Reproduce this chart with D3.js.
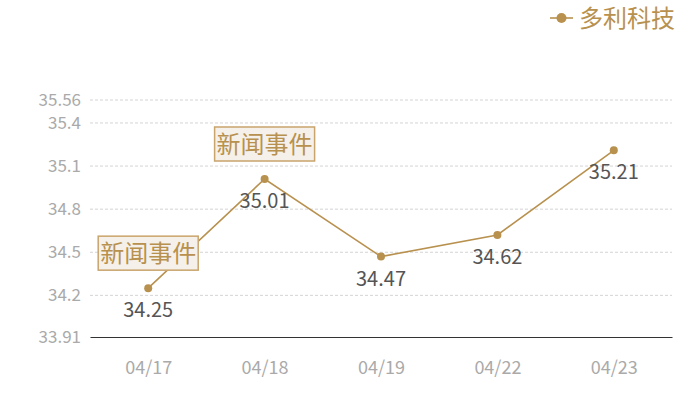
<!DOCTYPE html>
<html>
<head>
<meta charset="utf-8">
<script src="https://cdn.jsdelivr.net/npm/d3@7"></script>
<style>
  body { margin: 0; background: #fff; }
  text { font-family: "Noto Sans CJK SC", "Noto Sans", sans-serif; }
</style>
</head>
<body>
<div id="chart"></div>
<script>
// Data
const seriesName = "多利科技";
const dates = ["04/17", "04/18", "04/19", "04/22", "04/23"];
const prices = [34.25, 35.01, 34.47, 34.62, 35.21];
const yTicks = [33.91, 34.2, 34.5, 34.8, 35.1, 35.4, 35.56];
const eventDates = ["04/17", "04/18"];
const eventLabel = "新闻事件";

const dimensions = {
  width: 700,
  height: 400,
  margin: { top: 100, bottom: 63, left: 90, right: 28 },
};
dimensions.containerWidth = dimensions.width - dimensions.margin.left - dimensions.margin.right;
dimensions.containerHeight = dimensions.height - dimensions.margin.top - dimensions.margin.bottom;

const gold = "#b8914f";

const svg = d3.select("#chart")
  .append("svg")
  .attr("width", dimensions.width)
  .attr("height", dimensions.height);

const container = svg.append("g")
  .attr("transform", `translate(${dimensions.margin.left}, ${dimensions.margin.top})`);

// Scales
const xScale = d3.scalePoint()
  .domain(dates)
  .range([0, dimensions.containerWidth])
  .padding(0.5);

const yScale = d3.scaleLinear()
  .domain([yTicks[0], yTicks[yTicks.length - 1]])
  .range([dimensions.containerHeight, 0]);

// Grid lines
container.append("g")
  .selectAll("line")
  .data(yTicks.slice(1))
  .join("line")
  .attr("x1", 0)
  .attr("x2", dimensions.containerWidth)
  .attr("y1", d => yScale(d))
  .attr("y2", d => yScale(d))
  .attr("stroke", "#d4d4d4")
  .attr("stroke-dasharray", "3,2");

// Y axis
const yAxis = d3.axisLeft(yScale).tickValues(yTicks).tickSize(0).tickPadding(9).tickFormat(d => d);
const yAxisGroup = container.append("g").call(yAxis);
yAxisGroup.select(".domain").remove();
yAxisGroup.selectAll("text")
  .attr("fill", "#aaaaaa")
  .style("font-size", "17px");

// X axis
const xAxis = d3.axisBottom(xScale).tickSize(0).tickPadding(24);
const xAxisGroup = container.append("g")
  .attr("transform", `translate(0, ${dimensions.containerHeight})`)
  .call(xAxis);
xAxisGroup.select(".domain").attr("stroke", "#333").attr("stroke-width", 1.2);
xAxisGroup.selectAll("text")
  .attr("fill", "#aaaaaa")
  .style("font-size", "18px");

// Line
const line = d3.line()
  .x((d, i) => xScale(dates[i]))
  .y(d => yScale(d));

container.append("path")
  .datum(prices)
  .attr("fill", "none")
  .attr("stroke", gold)
  .attr("stroke-width", 1.6)
  .attr("d", line);

container.append("g")
  .selectAll("circle")
  .data(prices)
  .join("circle")
  .attr("cx", (d, i) => xScale(dates[i]))
  .attr("cy", d => yScale(d))
  .attr("r", 4)
  .attr("fill", gold);

// Value labels
container.append("g")
  .selectAll("text")
  .data(prices)
  .join("text")
  .attr("x", (d, i) => xScale(dates[i]))
  .attr("y", d => yScale(d) + 29)
  .attr("text-anchor", "middle")
  .attr("fill", "#555")
  .style("font-size", "20px")
  .text(d => d.toFixed(2));

// Event annotations
const eventGroup = container.append("g")
  .selectAll("g")
  .data(eventDates)
  .join("g")
  .attr("transform", d => {
    const v = prices[dates.indexOf(d)];
    return `translate(${xScale(d)}, ${yScale(v) - 35})`;
  });

eventGroup.append("rect")
  .attr("x", -50)
  .attr("y", -17)
  .attr("width", 100)
  .attr("height", 34)
  .attr("fill", "#f5f0ea")
  .attr("stroke", "#c9a46b")
  .attr("stroke-width", 1.5);

eventGroup.append("text")
  .attr("text-anchor", "middle")
  .attr("dy", "0.36em")
  .attr("fill", gold)
  .style("font-size", "24px")
  .text(eventLabel);

// Legend
const legend = svg.append("g").attr("transform", "translate(550, 18)");
legend.append("line")
  .attr("x1", 0).attr("x2", 23)
  .attr("stroke", gold).attr("stroke-width", 1.6);
legend.append("circle")
  .attr("cx", 11.5).attr("r", 5).attr("fill", gold);
legend.append("text")
  .attr("x", 29)
  .attr("dy", "0.36em")
  .attr("fill", gold)
  .style("font-size", "24px")
  .text(seriesName);
</script>
</body>
</html>
